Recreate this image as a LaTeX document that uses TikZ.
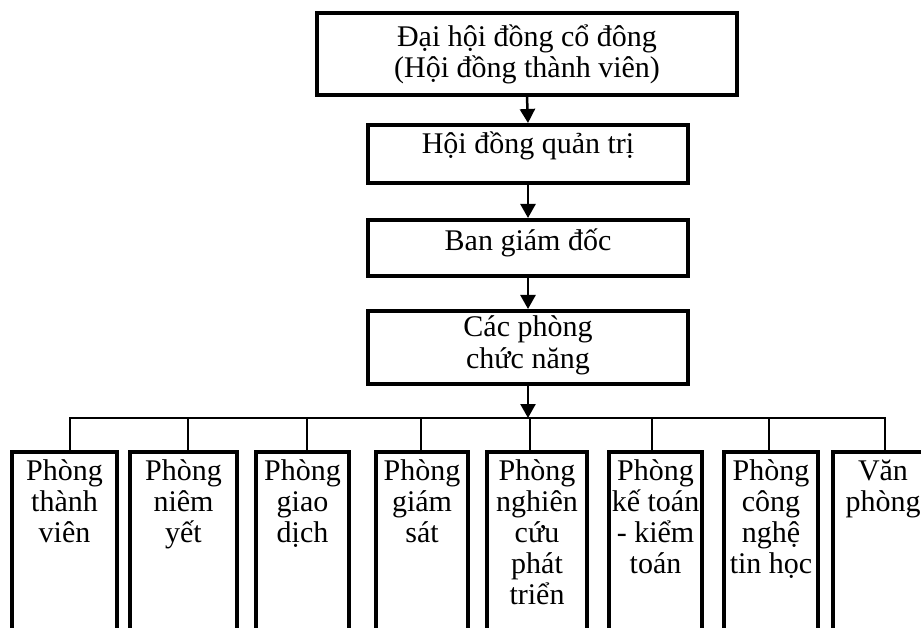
\documentclass[tikz,border=0pt]{standalone}
\usepackage{fontspec}
\setmainfont{Liberation Serif}
\usetikzlibrary{arrows.meta}
\newcommand{\dongdau}{\rule{0pt}{32pt}}

\begin{document}
\begin{tikzpicture}[x=1pt,y=-1pt,
  khung/.style={draw,line width=4pt,inner sep=0pt},
  chu/.style={font=\fontsize{30}{31}\selectfont,align=center,inner sep=0pt,anchor=north},
  noi/.style={line width=2.5pt},
  mui/.style={noi,-{Triangle[length=14pt,width=15pt]}}]
\useasboundingbox (0,0) rectangle (921,628);
\clip (0,0) rectangle (921,628);

% cac cap lanh dao
\node[khung,minimum width=420,minimum height=82] (dhcd) at (527,54) {};
\node[chu] (dhcd-chu) at (527,14) {\dongdau Đại hội đồng cổ đông\\(Hội đồng thành viên)};
\node[khung,minimum width=320,minimum height=58] (hdqt) at (528,154) {};
\node[chu] (hdqt-chu) at (528,121) {\dongdau Hội đồng quản trị};
\node[khung,minimum width=320,minimum height=56] (bgd) at (528,248) {};
\node[chu] (bgd-chu) at (528,218) {\dongdau Ban giám đốc};
\node[khung,minimum width=320,minimum height=73] (cnang) at (528,347.5) {};
\node[chu,font=\fontsize{30}{32}\selectfont] (cnang-chu) at (528,304) {\dongdau Các phòng\\chức năng};

\draw[mui] (dhcd.south) -- (hdqt.north);
\draw[mui] (hdqt.south) -- (bgd.north);
\draw[mui] (bgd.south) -- (cnang.north);
\coordinate (nhanh) at (528,418);
\draw[mui] (cnang.south) -- (nhanh);

% cac phong ban
\foreach \ten/\cx/\w/\dx/\noidung in {
  pb1/64.5/105/5.5/{Phòng\\thành\\viên},
  pb2/183.5/107/4.5/{Phòng\\niêm\\yết},
  pb3/302.5/93/4.5/{Phòng\\giao\\dịch},
  pb4/422/92/-1/{Phòng\\giám\\sát},
  pb5/537/100/-7/{Phòng\\nghiên\\cứu\\phát\\triển},
  pb6/655.5/93/-3.5/{Phòng\\kế toán\\- kiểm\\toán},
  pb7/771/94/-2/{Phòng\\công\\nghệ\\tin học},
  pb8/883/100/2/{Văn\\phòng}}
{
  \node[khung,minimum width=\w,minimum height=198] (\ten) at (\cx,551) {};
  \node[chu] (\ten-chu) at (\cx,448) {\dongdau\noidung};
  \draw[noi] ([xshift=\dx pt]\ten.north) |- (nhanh);
}
\end{tikzpicture}
\end{document}
